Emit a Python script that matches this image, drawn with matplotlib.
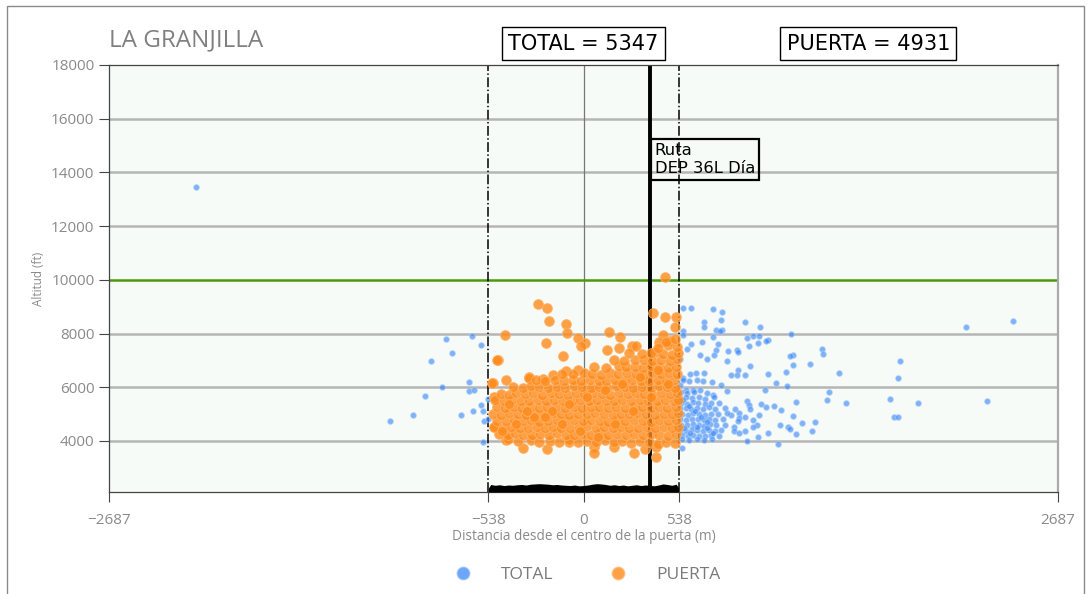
import numpy as np
import matplotlib.pyplot as plt
from matplotlib.lines import Line2D
from matplotlib.patches import Rectangle

plt.rcParams["font.family"] = ["Open Sans", "DejaVu Sans"]

# limits and reference positions (m / ft)
x_lim = (-2687, 2687)
y_lim = (2100, 18000)
x_ticks = [-2687, -538, 0, 538, 2687]
x_tick_labels = ["\u22122687", "\u2212538", "0", "538", "2687"]
y_ticks = [4000, 6000, 8000, 10000, 12000, 14000, 16000, 18000]
gate_half = 538
route_x = 379
limit_alt = 10000

total_count = 5347
puerta_count = 4931

# TOTAL points visible outside the gate (x m, altitude ft)
total_left = [
    (-2197, 13450), (-777, 7815), (-634, 7926), (-578, 7582), (-744, 7285),
    (-866, 6963), (-650, 6197), (-800, 6000), (-650, 5864), (-619, 5915),
    (-895, 5678), (-540, 5581), (-578, 5346), (-627, 5111), (-570, 5111),
    (-968, 4963), (-693, 4963), (-1093, 4730), (-561, 4730), (-540, 4827),
    (-570, 3974),
]

total_right = [
    (562, 8950), (608, 8950), (736, 8900), (785, 8800), (781, 8520),
    (684, 8420), (917, 8420), (680, 8230), (751, 8150), (785, 8150),
    (774, 8090), (997, 8250), (562, 8090), (562, 7960), (1174, 8000),
    (736, 7860), (959, 7900), (993, 7900), (925, 7820), (1042, 7770),
    (1035, 7720), (608, 7620), (672, 7670), (759, 7620), (989, 7640),
    (940, 7520), (585, 7420), (751, 7370), (819, 7350), (868, 7370),
    (876, 7300), (1348, 7430), (1359, 7250), (1189, 7210), (1171, 7150),
    (657, 7200), (740, 7200), (544, 7060), (698, 7060), (812, 6970),
    (1280, 6880), (1185, 6830), (944, 6780), (876, 6630), (1144, 6580),
    (604, 6480), (638, 6530), (684, 6530), (838, 6440), (868, 6440),
    (917, 6440), (1042, 6480), (1446, 6530), (562, 6360), (562, 6260),
    (600, 6220), (642, 6260), (676, 6230), (725, 6200), (781, 6100),
    (1091, 6150), (1151, 6050), (544, 6070), (578, 5890), (619, 5890),
    (661, 5890), (732, 5700), (812, 5860), (1027, 5910), (1389, 5840),
    (1378, 5540), (925, 5490), (1205, 5440), (1004, 5370), (936, 5340),
    (1035, 5250), (1080, 5300), (857, 5200), (944, 5200), (1117, 5170),
    (879, 5030), (838, 4950), (917, 4900), (993, 4950), (1185, 4930),
    (879, 4850), (876, 4750), (959, 4780), (1310, 4700), (1238, 4680),
    (1110, 4590), (985, 4600), (853, 4530), (1159, 4530), (1171, 4460),
    (959, 4530), (917, 4380), (853, 4360), (883, 4290), (1042, 4310),
    (1205, 4260), (1295, 4380), (989, 4160), (925, 4010), (1099, 3880),
    (555, 3740),
    (2167, 8230), (2435, 8470), (1790, 6960), (1782, 6330), (1733, 5580),
    (1484, 5400), (1897, 5400), (2284, 5480), (1761, 4880), (1782, 4910),
]

total_core = [
    (550, 5820), (585, 5780), (625, 5840), (700, 5800),
    (548, 5610), (580, 5640), (615, 5590), (655, 5620), (690, 5580), (740, 5630),
    (552, 5420), (585, 5380), (620, 5440), (650, 5400), (690, 5370), (720, 5430),
    (770, 5410),
    (547, 5210), (578, 5240), (610, 5190), (645, 5230), (675, 5200), (710, 5250),
    (745, 5180), (800, 5220),
    (556, 5010), (590, 4980), (622, 5030), (655, 5000), (690, 4970), (720, 5020),
    (760, 4990), (812, 5040),
    (549, 4810), (582, 4780), (615, 4830), (648, 4800), (680, 4770), (712, 4820),
    (745, 4790), (790, 4830),
    (553, 4610), (588, 4580), (620, 4630), (652, 4600), (685, 4570), (718, 4620),
    (752, 4590), (800, 4610),
    (548, 4410), (580, 4380), (612, 4430), (645, 4400), (678, 4370), (710, 4420),
    (742, 4390), (780, 4420),
    (555, 4210), (590, 4180), (622, 4230), (655, 4200), (688, 4170), (720, 4220),
    (770, 4200),
    (560, 4060), (600, 4030), (640, 4070), (680, 4040), (730, 4060),
    (565, 5510), (600, 5300), (632, 5110), (665, 4900), (700, 4700),
    (570, 4500), (605, 4300), (640, 4510), (700, 4500), (735, 4300),
]

# PUERTA points (inside the gate)
puerta_outliers = [
    (463, 10090), (-257, 9100), (-206, 8950), (-197, 8480), (-98, 8350),
    (-91, 8010), (-446, 7960), (396, 8750), (464, 8600), (525, 8600),
    (517, 8230), (142, 8050), (204, 7890), (453, 7960), (-30, 7830),
    (7, 7640), (-13, 7520), (-213, 7640), (134, 7400), (272, 7520),
    (430, 7670), (491, 7740), (-117, 7150), (-487, 7030), (-98, 6590),
    (-30, 6630), (-310, 6380), (-438, 6260), (-174, 6450), (-230, 6320),
    (404, 7330), (-514, 6160), (-504, 5640), (-504, 4510), (-438, 4040),
    (-344, 3730), (-206, 3690), (-83, 3970), (57, 3770), (57, 3570),
    (172, 3790), (285, 3570), (351, 3690), (412, 3790), (408, 3400),
    (-306, 6360), (-519, 6160), (-491, 7000),
]

puerta_core = [
    (-430, 4060), (-370, 3990), (-300, 4020), (-250, 3960), (-190, 4010),
    (-140, 3980), (-80, 4030), (-30, 3970), (20, 4000), (70, 3950),
    (120, 4020), (170, 3960), (220, 3990), (270, 3930), (320, 4010),
    (370, 3950), (420, 3900), (470, 3980), (520, 3920),
    (-480, 4270), (-430, 4230), (-390, 4280), (-340, 4240), (-290, 4210),
    (-245, 4260), (-195, 4230), (-150, 4280), (-100, 4240), (-55, 4210),
    (-5, 4260), (45, 4230), (95, 4280), (140, 4220), (190, 4260),
    (240, 4230), (285, 4270), (335, 4220), (385, 4260), (430, 4240),
    (480, 4200), (525, 4260),
    (-505, 4510), (-455, 4480), (-410, 4530), (-360, 4500), (-315, 4470),
    (-265, 4520), (-220, 4490), (-170, 4530), (-125, 4500), (-75, 4470),
    (-25, 4510), (20, 4540), (70, 4490), (115, 4520), (165, 4480),
    (215, 4530), (260, 4500), (310, 4470), (360, 4520), (405, 4490),
    (455, 4530), (500, 4480), (535, 4510),
    (-490, 4760), (-440, 4730), (-395, 4780), (-345, 4740), (-300, 4770),
    (-250, 4720), (-200, 4760), (-150, 4790), (-105, 4740), (-55, 4770),
    (-5, 4730), (45, 4780), (95, 4750), (140, 4720), (190, 4770),
    (235, 4740), (285, 4790), (335, 4750), (380, 4720), (430, 4770),
    (480, 4740), (525, 4790),
    (-510, 5010), (-465, 4980), (-420, 5030), (-370, 5000), (-325, 4970),
    (-275, 5020), (-225, 4990), (-175, 5030), (-130, 5000), (-80, 4970),
    (-30, 5020), (20, 4990), (65, 5030), (115, 5000), (165, 4970),
    (210, 5020), (260, 4990), (310, 5030), (355, 5000), (405, 4970),
    (455, 5020), (500, 4990), (535, 5040),
    (-490, 5260), (-445, 5230), (-395, 5280), (-350, 5240), (-300, 5270),
    (-250, 5230), (-205, 5280), (-155, 5250), (-105, 5220), (-55, 5270),
    (-10, 5240), (40, 5280), (90, 5250), (140, 5220), (185, 5270),
    (235, 5240), (285, 5280), (330, 5250), (380, 5220), (430, 5270),
    (475, 5240), (525, 5280),
    (-500, 5510), (-450, 5480), (-405, 5530), (-355, 5500), (-310, 5470),
    (-260, 5520), (-210, 5490), (-165, 5530), (-115, 5500), (-65, 5470),
    (-20, 5520), (30, 5490), (75, 5530), (125, 5500), (175, 5470),
    (220, 5520), (270, 5490), (320, 5530), (365, 5500), (415, 5470),
    (460, 5520), (510, 5490), (535, 5540),
    (-470, 5760), (-420, 5730), (-380, 5780), (-330, 5740), (-285, 5770),
    (-235, 5730), (-185, 5780), (-140, 5750), (-90, 5720), (-40, 5770),
    (5, 5740), (55, 5780), (105, 5750), (150, 5720), (200, 5770),
    (250, 5740), (295, 5780), (345, 5750), (390, 5720), (440, 5770),
    (490, 5740), (530, 5780),
    (-400, 6010), (-345, 5980), (-300, 6030), (-250, 6000), (-200, 5970),
    (-150, 6020), (-105, 5990), (-55, 6030), (-10, 6000), (40, 5970),
    (90, 6020), (135, 5990), (185, 6030), (235, 6000), (280, 5970),
    (330, 6020), (380, 5990), (425, 6030), (475, 6000), (520, 5970),
    (-270, 6260), (-220, 6230), (-160, 6280), (-110, 6240), (-60, 6270),
    (-15, 6230), (35, 6280), (85, 6250), (130, 6220), (180, 6270),
    (230, 6240), (275, 6280), (325, 6250), (370, 6220), (420, 6270),
    (470, 6240), (515, 6280),
    (-120, 6510), (-60, 6480), (0, 6530), (50, 6500), (100, 6470),
    (150, 6520), (195, 6490), (245, 6530), (295, 6500), (340, 6470),
    (390, 6520), (440, 6490), (485, 6530), (530, 6500),
    (60, 6760), (130, 6730), (200, 6780), (240, 6740), (290, 6770),
    (335, 6730), (385, 6780), (430, 6750), (480, 6720), (525, 6770),
    (170, 7010), (230, 6980), (290, 7030), (340, 7000), (390, 6970),
    (440, 7020), (490, 6990), (530, 7040),
    (260, 7260), (330, 7230), (380, 7280), (450, 7250), (500, 7220),
    (535, 7290),
    (200, 7480), (300, 7520), (420, 7460), (480, 7560), (530, 7500),
    (470, 7700), (520, 7800),
    (-460, 4380), (-380, 4620), (-280, 4880), (-180, 5130), (-80, 5380),
    (20, 5630), (120, 5880), (220, 6130), (320, 6380), (420, 6630),
    (-420, 5380), (-320, 5130), (-220, 4880), (-120, 4630), (-20, 4380),
    (80, 4130), (180, 4630), (280, 5130), (380, 5630), (480, 6130),
]

# ground profile under the gate
ground_x = [-538, -525, -500, -475, -450, -425, -400, -375, -350, -325, -300,
            -275, -250, -225, -200, -175, -150, -125, -100, -75, -50, -25, 0,
            25, 50, 75, 100, 125, 150, 175, 200, 225, 250, 275, 300, 325, 350,
            375, 400, 425, 450, 475, 500, 525, 538]
ground_y = [2250, 2380, 2350, 2370, 2340, 2360, 2350, 2370, 2380, 2360, 2390,
            2400, 2410, 2400, 2390, 2370, 2380, 2360, 2350, 2340, 2360, 2330,
            2340, 2360, 2390, 2410, 2400, 2380, 2350, 2370, 2340, 2360, 2330,
            2350, 2370, 2340, 2360, 2350, 2330, 2360, 2400, 2380, 2350, 2390,
            2250]

blue = "#2f80f5"
orange = "#ff8a1a"
grey_text = "#8a8a8a"

fig = plt.figure(figsize=(10.91, 5.94), dpi=100)
ax = fig.add_axes([109 / 1091, 1 - 492 / 594, 949 / 1091, 427 / 594])
ax.set_facecolor("#f6fbf7")

ax.set_xlim(*x_lim)
ax.set_ylim(*y_lim)

for yv in y_ticks[:-1]:
    if yv == limit_alt:
        continue
    ax.axhline(yv, color="#b5b5b5", lw=1.8, zorder=1)
ax.axhline(limit_alt, color="#4c9a0a", lw=1.8, zorder=2)

ax.axvline(0, color="#777777", lw=0.9, zorder=1)
ax.axvline(-gate_half, color="black", lw=1.1, ls="-.", zorder=2)
ax.axvline(gate_half, color="black", lw=1.1, ls="-.", zorder=2)
ax.axvline(route_x, color="black", lw=2.8, zorder=2)

ax.fill_between(ground_x, y_lim[0], ground_y, color="black", lw=0, zorder=3)

tx, ty = np.array(total_left + total_right + total_core).T
ax.scatter(tx, ty, s=17, color=blue, alpha=0.6, edgecolors="#a9ccff",
           linewidths=0.8, zorder=4)
px, py = np.array(puerta_outliers + puerta_core).T
ax.scatter(px, py, s=50, color=orange, alpha=0.8, edgecolors="#ffb36a",
           linewidths=0.7, zorder=5)

ax.set_xticks(x_ticks)
ax.set_xticklabels(x_tick_labels)
ax.set_yticks(y_ticks)
ax.tick_params(axis="both", direction="out", length=7, color="#444444",
               labelcolor=grey_text, labelsize=11)
ax.tick_params(axis="x", pad=8)

for side in ["left", "top", "bottom"]:
    ax.spines[side].set_color("#444444")
    ax.spines[side].set_linewidth(0.9)
ax.spines["right"].set_color("#aaaaaa")
ax.spines["right"].set_linewidth(1.6)

ax.set_xlabel("Distancia desde el centro de la puerta (m)", color=grey_text,
              fontsize=9.8, labelpad=1)
ax.set_ylabel("Altitud (ft)", color=grey_text, fontsize=8.5, labelpad=4)

ax.text(0.0, 1.058, "LA GRANJILLA", transform=ax.transAxes, fontsize=17.5,
        color="#808080", ha="left", va="center")

box = dict(boxstyle="square,pad=0.3", facecolor="white", edgecolor="black",
           lw=1.0)
ax.text(0.5, 1.05, f"TOTAL = {total_count}", transform=ax.transAxes,
        family="DejaVu Sans", fontsize=15, ha="center", va="center", bbox=box)
ax.text(0.8, 1.05, f"PUERTA = {puerta_count}", transform=ax.transAxes,
        family="DejaVu Sans", fontsize=15, ha="center", va="center", bbox=box)

ax.text(route_x + 25, 15080, "Ruta\nDEP 36L Día", family="DejaVu Sans",
        fontsize=11.8, ha="left", va="top", zorder=6, linespacing=1.2,
        bbox=dict(boxstyle="square,pad=0.25", facecolor="none",
                  edgecolor="black", lw=1.6))

handles = [
    Line2D([], [], ls="none", marker="o", markersize=9, color=blue, alpha=0.7,
           markeredgecolor="#8fbcff"),
    Line2D([], [], ls="none", marker="o", markersize=9, color=orange, alpha=0.8,
           markeredgecolor="#ffbb78"),
]
fig.legend(handles, ["TOTAL", "PUERTA"], loc="center",
           bbox_to_anchor=(583 / 1091, 1 - 575 / 594), ncol=2, frameon=False,
           fontsize=12.5, labelcolor="#7a7a7a", handletextpad=1.2,
           columnspacing=2.75)

fig.add_artist(Rectangle((7 / 1091, -0.1), 1077 / 1091, 1.1 - 6 / 594,
                         transform=fig.transFigure, fill=False,
                         edgecolor="#8a8a8a", lw=1.0))

fig.savefig("out.png", dpi=100)
